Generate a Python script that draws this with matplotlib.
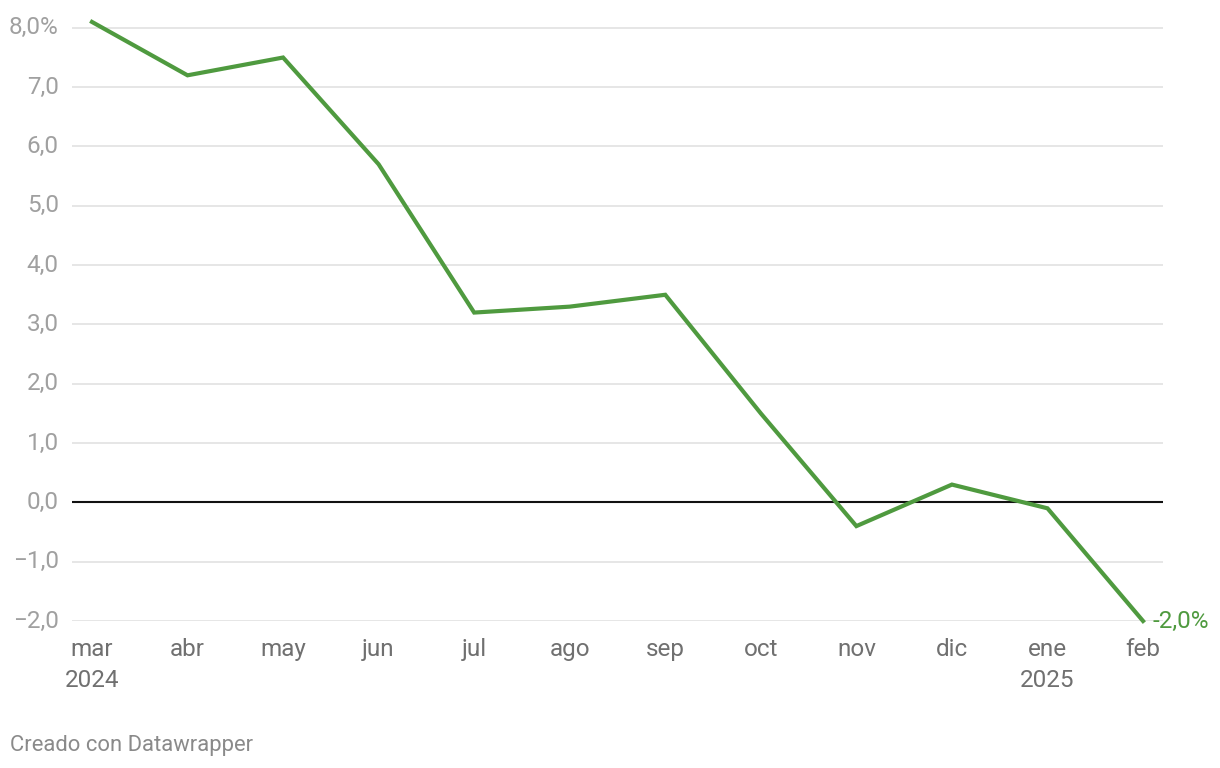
import matplotlib
matplotlib.use("Agg")
import matplotlib.pyplot as plt

months = ["mar\n2024", "abr", "may", "jun", "jul", "ago", "sep", "oct", "nov", "dic", "ene\n2025", "feb"]
values = [8.1, 7.2, 7.5, 5.7, 3.2, 3.3, 3.5, 1.5, -0.4, 0.3, -0.1, -2.0]
yticks = [-2, -1, 0, 1, 2, 3, 4, 5, 6, 7, 8]

green = "#4f9a3f"

plt.rcParams["font.family"] = ["Roboto", "DejaVu Sans"]

fig = plt.figure(figsize=(12.2, 7.68), dpi=100)
ax = fig.add_axes([72 / 1220, (768 - 621) / 768, (1163 - 72) / 1220, (621 - 16) / 768])

x = list(range(len(months)))
ax.plot(x, values, color=green, lw=3, clip_on=False, zorder=3, solid_joinstyle="miter")

ax.set_xlim(-0.209, 11.209)
ax.set_ylim(-2.0, 8.2)

ax.set_yticks(yticks)
ylabels = []
for v in yticks:
    s = f"{abs(v)},0"
    if v < 0:
        s = "\u2212" + s
    if v == 8:
        s += "%"
    ylabels.append(s)
ax.set_yticklabels(ylabels)
ax.set_xticks(x)
ax.set_xticklabels(months, linespacing=1.4)

for v in yticks:
    if v == 0:
        ax.axhline(0, color="#111111", lw=1.5, zorder=2)
    else:
        ax.axhline(v, color="#e2e2e2", lw=1.2, zorder=1)

for s in ax.spines.values():
    s.set_visible(False)
ax.tick_params(axis="y", length=0, pad=9.5, labelsize=17.5, labelcolor="#a0a0a0")
ax.tick_params(axis="x", length=0, pad=12.5, labelsize=17.5, labelcolor="#707070")
for lbl in ax.get_yticklabels():
    lbl.set_verticalalignment("center")

ax.annotate("-2,0%", (x[-1], values[-1]), xytext=(7, 0), textcoords="offset points",
            color=green, fontsize=17.5, va="center", ha="left", annotation_clip=False)

fig.text(10 / 1220, 1 - 745 / 768, "Creado con Datawrapper", fontsize=15.8, color="#8a8a8a",
         va="center", ha="left")

fig.savefig("out.png", dpi=100)
